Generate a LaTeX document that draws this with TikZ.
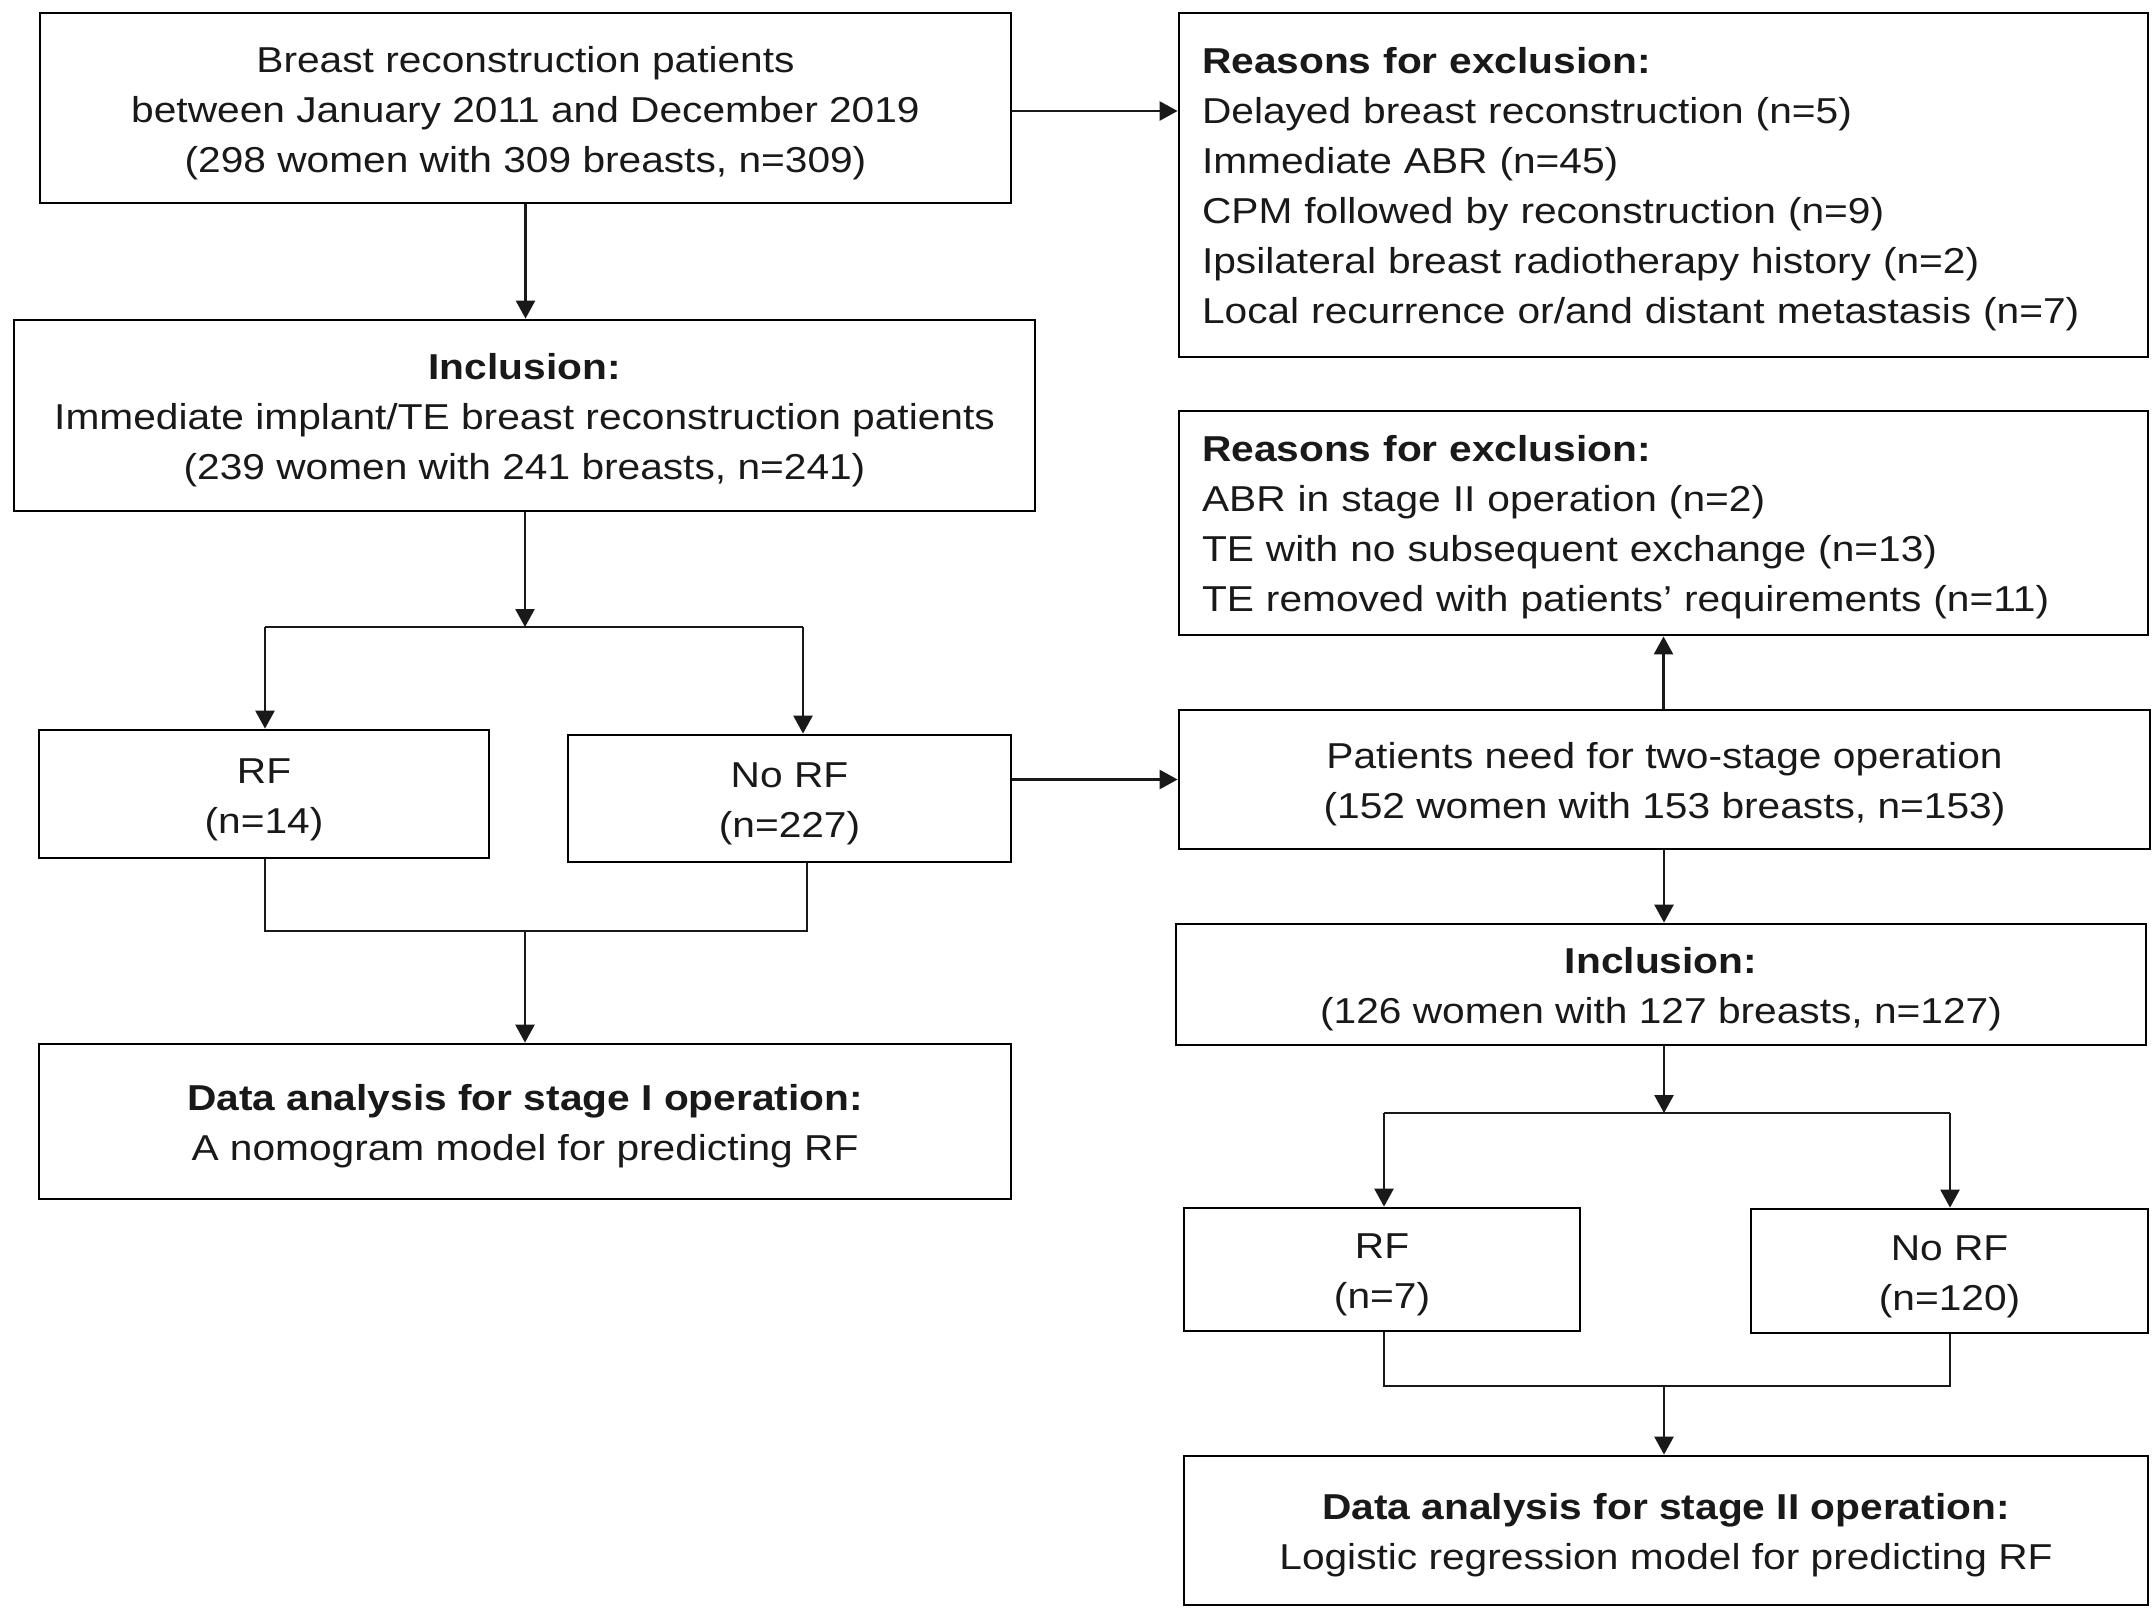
\documentclass[tikz,border=0pt]{standalone}
\usepackage{fontspec}
\setmainfont[FakeStretch=1.13]{Liberation Sans}
\usetikzlibrary{arrows.meta}
\newcommand\bstrut{\rule{0pt}{18pt}}
\newcommand\lstrut{\rule{0pt}{17pt}}
\begin{document}
\begin{tikzpicture}[x=0.5pt,y=-0.5pt,
 basebox/.style={draw=black,line width=1.4pt,rectangle,inner sep=0pt,font=\fontsize{18}{25}\selectfont,text=black!90},
 box/.style={basebox,align=center},
 lbox/.style={basebox,align=left,inner xsep=11.5pt,inner ysep=0pt,execute at begin node=\lstrut},
 conn/.style={line width=1.3pt,draw=black!90},
 arr/.style={conn,-{Triangle[length=9pt,width=9.5pt]}}]

\useasboundingbox[fill=white] (0,0) rectangle (2155,1607);

% left column
\node[box,minimum width=485.5pt,minimum height=95pt] (b1) at (525.5,108)
  {\bstrut Breast reconstruction patients\\between January 2011 and December 2019\\(298 women with 309 breasts, n=309)};
\node[box,minimum width=510.5pt,minimum height=95.5pt] (b2) at (524.5,415.5)
  {\bstrut\textbf{Inclusion:}\\Immediate implant/TE breast reconstruction patients\\(239 women with 241 breasts, n=241)};
\node[box,minimum width=225pt,minimum height=64pt] (rf1) at (264,794) {\bstrut RF\\(n=14)};
\node[box,minimum width=221.5pt,minimum height=63.5pt] (norf1) at (789.5,798.5) {\bstrut No RF\\(n=227)};
\node[box,minimum width=486pt,minimum height=77.5pt] (d1) at (525,1121.5)
  {\bstrut\textbf{Data analysis for stage I operation:}\\A nomogram model for predicting RF};

% right column
\node[lbox,text width=461.5pt,minimum height=172pt] (ex1) at (1663.5,185)
  {\textbf{Reasons for exclusion:}\\Delayed breast reconstruction (n=5)\\Immediate ABR (n=45)\\CPM followed by reconstruction (n=9)\\Ipsilateral breast radiotherapy history (n=2)\\Local recurrence or/and distant metastasis (n=7)};
\node[lbox,text width=461.5pt,minimum height=112pt] (ex2) at (1663.5,523)
  {\textbf{Reasons for exclusion:}\\ABR in stage II operation (n=2)\\TE with no subsequent exchange (n=13)\\TE removed with patients’ requirements (n=11)};
\node[box,minimum width=485.5pt,minimum height=69.5pt] (pt) at (1664.5,779.5)
  {\bstrut Patients need for two-stage operation\\(152 women with 153 breasts, n=153)};
\node[box,minimum width=485pt,minimum height=60.5pt] (inc2) at (1661,984.5)
  {\bstrut\textbf{Inclusion:}\\(126 women with 127 breasts, n=127)};
\node[box,minimum width=198pt,minimum height=61.5pt] (rf2) at (1382,1269.5) {\bstrut RF\\(n=7)};
\node[box,minimum width=198.5pt,minimum height=62pt] (norf2) at (1949.5,1271) {\bstrut No RF\\(n=120)};
\node[box,minimum width=482pt,minimum height=74.5pt] (d2) at (1666,1530.5)
  {\bstrut\textbf{Data analysis for stage II operation:}\\Logistic regression model for predicting RF};

% junction coordinates
\coordinate (s1) at (525,627);
\coordinate (s1l) at (265,627);
\coordinate (s1r) at (803,627);
\coordinate (m1) at (525,931);
\coordinate (m1l) at (265,931);
\coordinate (m1r) at (807,931);
\coordinate (s2) at (1664,1113);
\coordinate (s2l) at (1384,1113);
\coordinate (s2r) at (1950,1113);
\coordinate (m2) at (1664,1386);
\coordinate (m2l) at (1384,1386);
\coordinate (m2r) at (1950,1386);

% connectors, left
\draw[arr] (b1.south) -- (b1.south |- b2.north);
\draw[arr] (b1.east |- 0,111) -- (ex1.west |- 0,111);
\draw[arr] (b2.south -| s1) -- (s1);
\draw[conn] (s1l) -- (s1r);
\draw[arr] (s1l) -- (s1l |- rf1.north);
\draw[arr] (s1r) -- (s1r |- norf1.north);
\draw[conn] (rf1.south -| m1l) -- (m1l) -- (m1r) -- (norf1.south -| m1r);
\draw[arr] (m1) -- (m1 |- d1.north);
\draw[arr] (norf1.east |- pt.west) -- (pt.west);

% connectors, right
\draw[arr] (pt.north -| ex2.south) -- (ex2.south);
\draw[arr] (pt.south -| s2) -- (s2 |- inc2.north);
\draw[arr] (inc2.south -| s2) -- (s2);
\draw[conn] (s2l) -- (s2r);
\draw[arr] (s2l) -- (s2l |- rf2.north);
\draw[arr] (s2r) -- (s2r |- norf2.north);
\draw[conn] (rf2.south -| m2l) -- (m2l) -- (m2r) -- (norf2.south -| m2r);
\draw[arr] (m2) -- (m2 |- d2.north);
\end{tikzpicture}
\end{document}
